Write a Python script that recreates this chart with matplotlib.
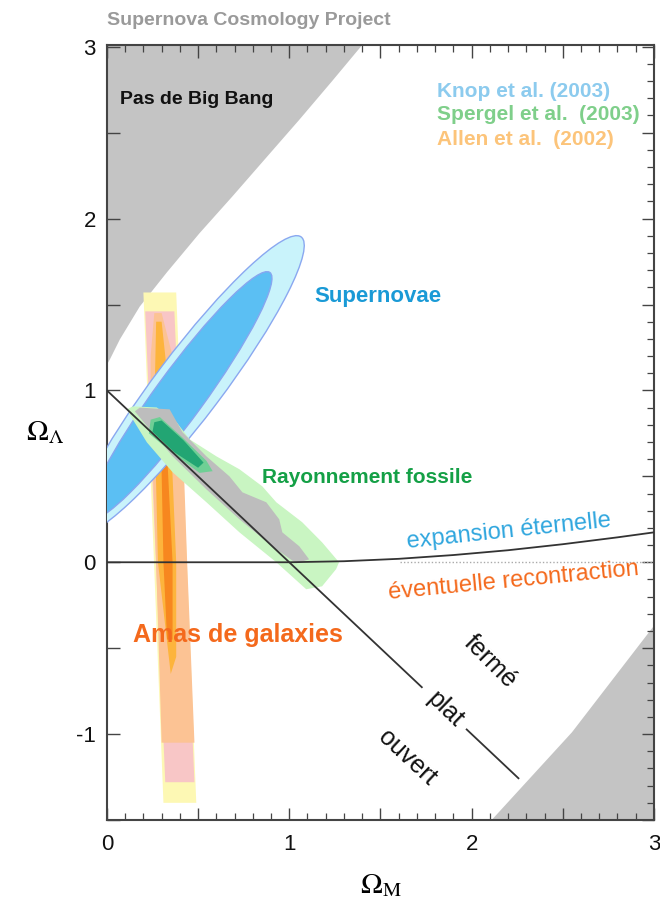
import matplotlib
matplotlib.use("Agg")
import matplotlib.pyplot as plt
from matplotlib.patches import Polygon, Ellipse
from matplotlib.ticker import MultipleLocator, FuncFormatter

plt.rcParams['font.family'] = ['Liberation Sans', 'DejaVu Sans']
plt.rcParams['mathtext.fontset'] = 'stix'

# --- values (Omega_M, Omega_Lambda) ---
no_big_bang_x = [0.0, 0.016, 0.071, 0.18, 0.328, 0.508, 0.689, 0.874, 1.055, 1.235, 1.40]
no_big_bang_y = [1.15, 1.18, 1.297, 1.488, 1.686, 1.915, 2.13, 2.355, 2.575, 2.80, 3.01]

recollapse_x = [2.11, 2.55, 3.0]
recollapse_y = [-1.5, -0.99, -0.37]

expansion_x = [0.0, 1.0, 1.3, 1.6, 1.9, 2.2, 2.5, 2.8, 3.0]
expansion_y = [0.0, 0.0, 0.006, 0.02, 0.042, 0.07, 0.105, 0.145, 0.174]

flat_x = [0.0, 1.727, 1.973, 2.257]   # broken around the "plat" label

# supernovae (Knop et al. 2003): center, full axes, angle
sn_center = [(0.45, 1.03), (0.40, 0.97)]
sn_width = [2.12, 1.74]
sn_height = [0.37, 0.27]
sn_angle = [54.6, 55.5]

# CMB (Spergel et al. 2003)
cmb_outer_x = [0.142, 0.273, 0.383, 0.454, 0.601, 0.727, 0.852, 0.929, 1.071, 1.18, 1.273,
               1.257, 1.18, 1.093, 0.929, 0.727, 0.546, 0.361, 0.219, 0.142, 0.109]
cmb_outer_y = [0.907, 0.901, 0.814, 0.715, 0.616, 0.541, 0.442, 0.349, 0.233, 0.116, 0.0,
               -0.04, -0.14, -0.157, 0.0, 0.174, 0.349, 0.523, 0.698, 0.831, 0.89]
cmb_gray_x = [0.18, 0.344, 0.415, 0.546, 0.672, 0.743, 0.874, 0.945, 0.962, 1.055, 1.109,
              1.038, 0.907, 0.727, 0.546, 0.361, 0.235, 0.153]
cmb_gray_y = [0.9, 0.89, 0.756, 0.616, 0.5, 0.407, 0.349, 0.25, 0.174, 0.093, 0.017,
              -0.006, 0.093, 0.25, 0.424, 0.616, 0.773, 0.878]
cmb_inner_x = [0.24, 0.29, 0.415, 0.546, 0.58, 0.508, 0.361, 0.23]
cmb_inner_y = [0.83, 0.845, 0.725, 0.59, 0.53, 0.52, 0.635, 0.75]
cmb_core_x = [0.26, 0.30, 0.42, 0.53, 0.50, 0.37, 0.25]
cmb_core_y = [0.815, 0.825, 0.71, 0.58, 0.55, 0.64, 0.76]

# clusters (Allen et al. 2002), outer to inner
cl_yellow_x = [0.20, 0.38, 0.49, 0.31]
cl_yellow_y = [1.57, 1.57, -1.40, -1.40]
cl_pink_x = [0.21, 0.37, 0.48, 0.32]
cl_pink_y = [1.46, 1.46, -1.28, -1.28]
cl_peach_x = [0.26, 0.30, 0.36, 0.41, 0.44, 0.48, 0.30, 0.27, 0.24, 0.24]
cl_peach_y = [1.45, 1.45, 1.2, 0.9, 0.0, -1.05, -1.05, 0.0, 0.9, 1.2]
cl_gold_x = [0.27, 0.30, 0.34, 0.38, 0.38, 0.35, 0.28, 0.26]
cl_gold_y = [1.40, 1.40, 1.0, 0.0, -0.55, -0.65, 0.0, 0.9]
cl_core_x = [0.29, 0.31, 0.36, 0.36, 0.33, 0.31]
cl_core_y = [1.05, 1.05, 0.0, -0.45, -0.45, 0.0]

x_ticks = [0, 1, 2, 3]
y_ticks = [-1, 0, 1, 2, 3]


def poly(ax, xs, ys, color, z, **kw):
    ax.add_patch(Polygon(list(zip(xs, ys)), closed=True, facecolor=color,
                         edgecolor=kw.pop('edgecolor', 'none'), zorder=z, **kw))


fig = plt.figure(figsize=(6.6, 9.06), dpi=100)
ax = fig.add_axes([0.162, 0.0949, 0.8288, 0.8554])
ax.set_xlim(0, 3)
ax.set_ylim(-1.5, 3.01)

gray = '#c4c4c4'
poly(ax, [0] + no_big_bang_x + [0], [3.01] + no_big_bang_y + [3.01], gray, 1)
poly(ax, recollapse_x + [3.0], recollapse_y + [-1.5], gray, 1)

# clusters
poly(ax, cl_yellow_x, cl_yellow_y, '#fdf8b4', 2)
poly(ax, cl_pink_x, cl_pink_y, '#f8c6c6', 2.1)
poly(ax, cl_peach_x, cl_peach_y, '#fcc394', 2.2)
poly(ax, cl_gold_x, cl_gold_y, '#fdb43c', 2.3)
poly(ax, cl_core_x, cl_core_y, '#f7871f', 2.4)

# supernovae
ax.add_patch(Ellipse(sn_center[0], sn_width[0], sn_height[0], angle=sn_angle[0],
                     facecolor='#c9f3fb', edgecolor='#8aa8f0', lw=1.0, zorder=3))
ax.add_patch(Ellipse(sn_center[1], sn_width[1], sn_height[1], angle=sn_angle[1],
                     facecolor='#5bbff3', edgecolor='#86a6f0', lw=1.0, zorder=3.1))

# CMB
poly(ax, cmb_outer_x, cmb_outer_y, '#c9f5c2', 4)
poly(ax, cmb_gray_x, cmb_gray_y, '#bdbdbd', 4.1)
poly(ax, cmb_inner_x, cmb_inner_y, '#6fcf95', 4.2)
poly(ax, cmb_core_x, cmb_core_y, '#22a573', 4.3)

# lines
ax.plot(flat_x[:2], [1 - v for v in flat_x[:2]], color='#333333', lw=1.3, zorder=6)
ax.plot(flat_x[2:], [1 - v for v in flat_x[2:]], color='#333333', lw=1.3, zorder=6)
ax.plot(expansion_x, expansion_y, color='#333333', lw=1.3, zorder=6)
ax.plot([1.61, 3.0], [0, 0], color='#aaaaaa', lw=1.0, ls=(0, (1, 1.5)), zorder=5)

# texts
ax.text(0.071, 2.692, 'Pas de Big Bang', fontsize=14, fontweight='bold', color='#111111',
        va='center', ha='left', zorder=7)
ax.text(1.809, 2.738, 'Knop et al. (2003)', fontsize=15, fontweight='bold', color='#8ccbee',
        va='center', ha='left', zorder=7)
ax.text(1.809, 2.605, 'Spergel et al.  (2003)', fontsize=15, fontweight='bold', color='#7fcf8a',
        va='center', ha='left', zorder=7)
ax.text(1.809, 2.459, 'Allen et al.  (2002)', fontsize=15, fontweight='bold', color='#fcc47a',
        va='center', ha='left', zorder=7)
ax.text(1.486, 1.547, 'Supernovae', fontsize=16, fontweight='bold', color='#1a9ad6',
        ha='center', va='center', zorder=7)
ax.text(1.426, 0.494, 'Rayonnement fossile', fontsize=15, fontweight='bold', color='#14a046',
        ha='center', va='center', zorder=7)
ax.text(0.721, -0.424, 'Amas de galaxies', fontsize=18, fontweight='bold', color='#f4691c',
        ha='center', va='center', zorder=7)
ax.text(2.202, 0.18, 'expansion éternelle', fontsize=17, color='#2fa6de', rotation=6,
        ha='center', va='center', rotation_mode='anchor', zorder=7)
ax.text(2.23, -0.11, 'éventuelle recontraction', fontsize=17, color='#f4691c', rotation=5.5,
        ha='center', va='center', rotation_mode='anchor', zorder=7)
ax.text(2.10, -0.576, 'fermé', fontsize=18, color='#111111', rotation=-45,
        ha='center', va='center', rotation_mode='anchor', zorder=7)
ax.text(1.858, -0.855, 'plat', fontsize=18, color='#111111', rotation=-44,
        ha='center', va='center', rotation_mode='anchor', zorder=7)
ax.text(1.645, -1.134, 'ouvert', fontsize=18, color='#111111', rotation=-43,
        ha='center', va='center', rotation_mode='anchor', zorder=7)

fig.text(0.162, 0.977, 'Supernova Cosmology Project', fontsize=14, fontweight='bold',
         color='#9a9a9a', ha='left', va='center')

ax.set_xlabel(r'$\Omega_{\rm M}$', fontsize=21, labelpad=12)
ax.set_ylabel(r'$\Omega_\Lambda$', fontsize=21, rotation=0, labelpad=22, va='center')

# ticks
ax.xaxis.set_major_locator(MultipleLocator(0.5))
ax.xaxis.set_minor_locator(MultipleLocator(0.1))
ax.yaxis.set_major_locator(MultipleLocator(0.5))
ax.yaxis.set_minor_locator(MultipleLocator(0.1))
fmt = FuncFormatter(lambda v, p: '%d' % round(v) if abs(v - round(v)) < 1e-6 else '')
ax.xaxis.set_major_formatter(fmt)
ax.yaxis.set_major_formatter(fmt)
ax.tick_params(which='both', direction='in', top=True, right=True, colors='#444444',
               labelcolor='#111111', labelsize=16)
ax.tick_params(which='major', length=9, width=1.0)
ax.tick_params(which='minor', length=5, width=0.9)
ax.tick_params(axis='y', which='minor', left=False)
ax.tick_params(axis='x', pad=10)
ax.tick_params(axis='y', pad=8)
for s in ax.spines.values():
    s.set_color('#444444')
    s.set_linewidth(1.5)

fig.savefig('out.png', dpi=100)
